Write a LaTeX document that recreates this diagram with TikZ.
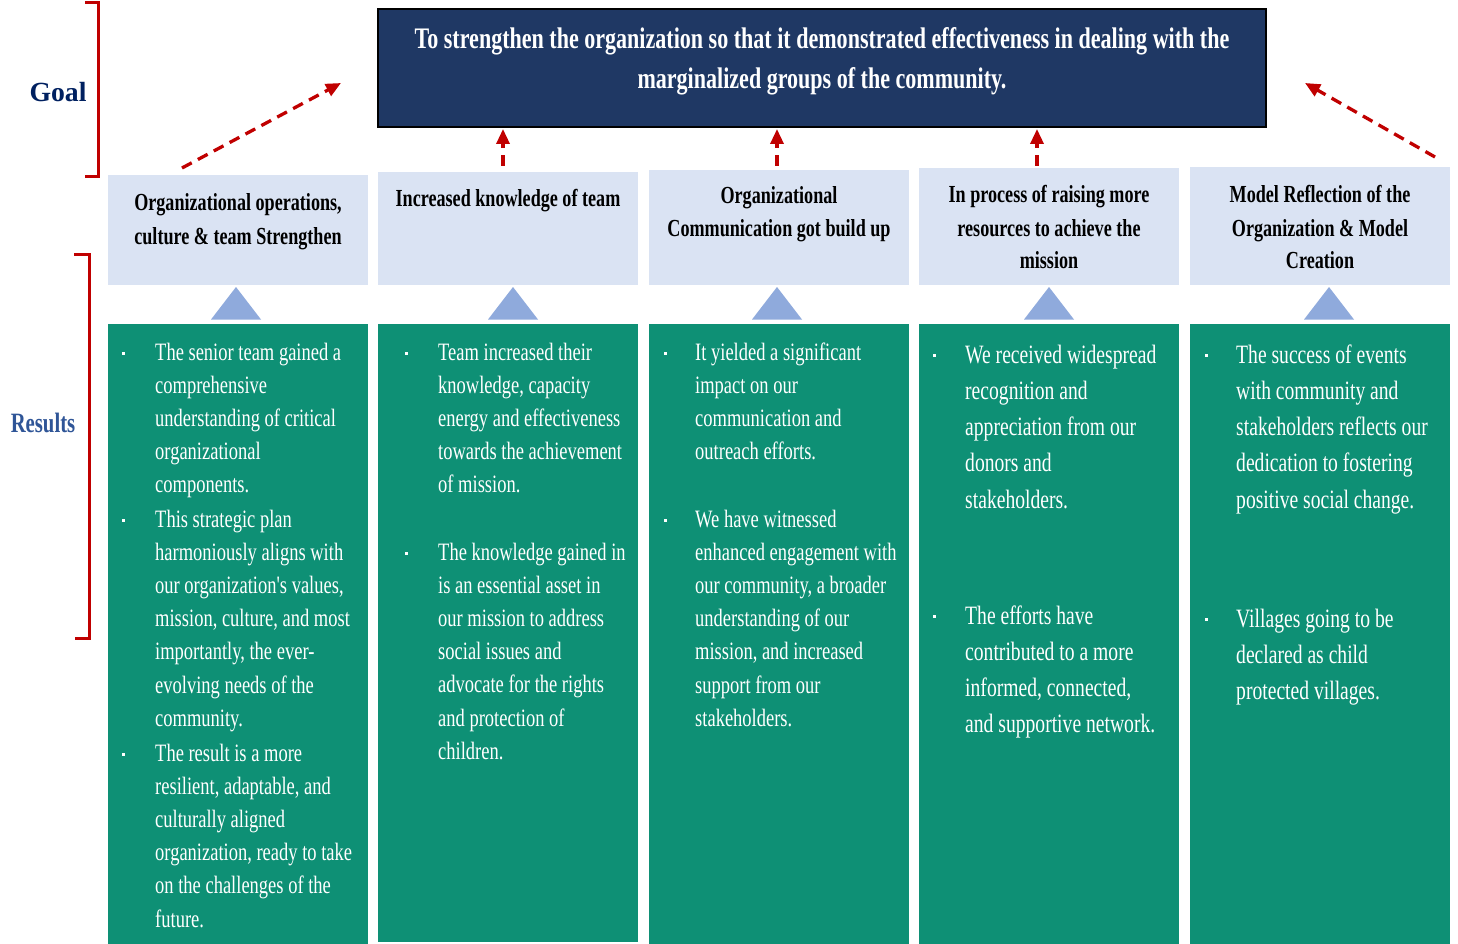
\documentclass[tikz,border=0pt]{standalone}
\usepackage{fontspec}
\setmainfont{Liberation Serif}
\newfontfamily\cond[FakeStretch=0.74]{Liberation Serif}
\usetikzlibrary{arrows.meta}
\definecolor{goalnavy}{HTML}{1F3864}
\definecolor{goalblue}{HTML}{002060}
\definecolor{resblue}{HTML}{2F5597}
\definecolor{headfill}{HTML}{DAE3F3}
\definecolor{trifill}{HTML}{8FAADC}
\definecolor{greenfill}{HTML}{0E9075}
\definecolor{redline}{HTML}{C00000}
\tikzset{
  headbox/.style={fill=headfill, draw=none, inner sep=0pt},
  greenbox/.style={fill=greenfill, draw=none, inner sep=0pt},
  headtxt/.style={anchor=base, inner sep=0pt, text=black, font=\cond\bfseries\fontsize{24.5}{33}\selectfont},
  bodytxt/.style={anchor=base west, inner sep=0pt, text=white, font=\cond\fontsize{25}{33.2}\selectfont},
  bodytxtL/.style={anchor=base west, inner sep=0pt, text=white, font=\cond\fontsize{26.5}{36.3}\selectfont},
  redarrow/.style={draw=redline, line width=3.3pt, dash pattern=on 11pt off 7pt, -{Triangle[length=15pt,width=13pt]}},
  bracket/.style={draw=redline, line width=3pt},
  bul/.style={fill=white, draw=none, minimum size=3pt, inner sep=0pt}
}
\newcommand\tri[1]{\fill[trifill] (#1,287) -- (#1+25,319.5) -- (#1-25,319.5) -- cycle;}
\begin{document}
\begin{tikzpicture}[x=1pt,y=-1pt]
\useasboundingbox (0,0) rectangle (1458,944);
% goal box
\node[fill=goalnavy, draw=black, line width=2pt, minimum width=888pt, minimum height=118pt, inner sep=0pt] (goal) at (822,68) {};
\node[anchor=base, inner sep=0pt, text=white, font=\cond\bfseries\fontsize{29.8}{40}\selectfont] (goaltxt) at (822,49)
  {\parbox[t]{880pt}{\centering To strengthen the organization so that it demonstrated effectiveness in dealing with the\\ marginalized groups of the community.}};
% labels
\node[inner sep=0pt, text=goalblue, font=\bfseries\fontsize{27.7}{30}\selectfont] (goallbl) at (58,92) {Goal};
\node[inner sep=0pt, text=resblue, font=\cond\bfseries\fontsize{28}{30}\selectfont] (reslbl) at (43,423) {Results};
% brackets
\draw[bracket] (85,3) -- (98,3) -- (98,177) -- (85,177);
\draw[bracket] (74,254) -- (89,254) -- (89,638) -- (75,638);
% header boxes
\node[headbox, minimum width=260pt, minimum height=110pt] (h1) at (238,230) {};
\node[headbox, minimum width=260pt, minimum height=113pt] (h2) at (508,228.5) {};
\node[headbox, minimum width=260pt, minimum height=115pt] (h3) at (779,227.5) {};
\node[headbox, minimum width=260pt, minimum height=117pt] (h4) at (1049,226.5) {};
\node[headbox, minimum width=260pt, minimum height=118pt] (h5) at (1320,226) {};
% header texts
\node[headtxt] (t1) at (238,211) {\parbox[t]{255pt}{\centering Organizational operations,\\ culture \& team Strengthen}};
\node[headtxt] (t2) at (508,207) {\parbox[t]{255pt}{\centering Increased knowledge of team}};
\node[headtxt] (t3) at (779,204) {\parbox[t]{255pt}{\centering Organizational\\ Communication got build up}};
\node[headtxt] (t4) at (1049,203) {\parbox[t]{255pt}{\centering In process of raising more\\ resources to achieve the\\ mission}};
\node[headtxt] (t5) at (1320,203) {\parbox[t]{255pt}{\centering Model Reflection of the\\ Organization \& Model\\ Creation}};
% triangles
\tri{236}\tri{513}\tri{777}\tri{1049}\tri{1329}
% green boxes
\node[greenbox, minimum width=260pt, minimum height=620pt] (g1) at (238,634) {};
\node[greenbox, minimum width=260pt, minimum height=618pt] (g2) at (508,633) {};
\node[greenbox, minimum width=260pt, minimum height=620pt] (g3) at (779,634) {};
\node[greenbox, minimum width=260pt, minimum height=620pt] (g4) at (1049,634) {};
\node[greenbox, minimum width=260pt, minimum height=620pt] (g5) at (1320,634) {};
% column 1
\node[bul] (b1a) at (123,353) {};
\node[bodytxt] (c1a) at (155,360) {\parbox[t]{230pt}{\raggedright The senior team gained a\\ comprehensive\\ understanding of critical\\ organizational\\ components.}};
\node[bul] (b1b) at (123,520) {};
\node[bodytxt] (c1b) at (155,527) {\parbox[t]{230pt}{\raggedright This strategic plan\\ harmoniously aligns with\\ our organization's values,\\ mission, culture, and most\\ importantly, the ever-\\ evolving needs of the\\ community.}};
\node[bul] (b1c) at (123,754) {};
\node[bodytxt] (c1c) at (155,761) {\parbox[t]{230pt}{\raggedright The result is a more\\ resilient, adaptable, and\\ culturally aligned\\ organization, ready to take\\ on the challenges of the\\ future.}};
% column 2
\node[bul] (b2a) at (406,353) {};
\node[bodytxt] (c2a) at (438,360) {\parbox[t]{230pt}{\raggedright Team increased their\\ knowledge, capacity\\ energy and effectiveness\\ towards the achievement\\ of mission.}};
\node[bul] (b2b) at (406,553) {};
\node[bodytxt] (c2b) at (438,560) {\parbox[t]{230pt}{\raggedright The knowledge gained in\\ is an essential asset in\\ our mission to address\\ social issues and\\ advocate for the rights\\ and protection of\\ children.}};
% column 3
\node[bul] (b3a) at (665,353) {};
\node[bodytxt] (c3a) at (695,360) {\parbox[t]{230pt}{\raggedright It yielded a significant\\ impact on our\\ communication and\\ outreach efforts.}};
\node[bul] (b3b) at (665,520) {};
\node[bodytxt] (c3b) at (695,527) {\parbox[t]{230pt}{\raggedright We have witnessed\\ enhanced engagement with\\ our community, a broader\\ understanding of our\\ mission, and increased\\ support from our\\ stakeholders.}};
% column 4
\node[bul] (b4a) at (934,355) {};
\node[bodytxtL] (c4a) at (965,363) {\parbox[t]{230pt}{\raggedright We received widespread\\ recognition and\\ appreciation from our\\ donors and\\ stakeholders.}};
\node[bul] (b4b) at (934,616) {};
\node[bodytxtL] (c4b) at (965,624) {\parbox[t]{230pt}{\raggedright The efforts have\\ contributed to a more\\ informed, connected,\\ and supportive network.}};
% column 5
\node[bul] (b5a) at (1206,355) {};
\node[bodytxtL] (c5a) at (1236,363) {\parbox[t]{230pt}{\raggedright The success of events\\ with community and\\ stakeholders reflects our\\ dedication to fostering\\ positive social change.}};
\node[bul] (b5b) at (1206,619) {};
\node[bodytxtL] (c5b) at (1236,627) {\parbox[t]{230pt}{\raggedright Villages going to be\\ declared as child\\ protected villages.}};
% arrows
\coordinate (a1s) at (182,168);
\coordinate (a1e) at (341,83);
\coordinate (a5s) at (1435,157);
\coordinate (a5e) at (1305,83);
\coordinate (a2s) at (503,166);
\coordinate (a2e) at (503,129);
\coordinate (a3s) at (777,166);
\coordinate (a3e) at (777,129);
\coordinate (a4s) at (1037,166);
\coordinate (a4e) at (1037,129);
\draw[redarrow] (a1s) -- (a1e);
\draw[redarrow] (a5s) -- (a5e);
\draw[redarrow] (a2s) -- (a2e);
\draw[redarrow] (a3s) -- (a3e);
\draw[redarrow] (a4s) -- (a4e);
\end{tikzpicture}
\end{document}
